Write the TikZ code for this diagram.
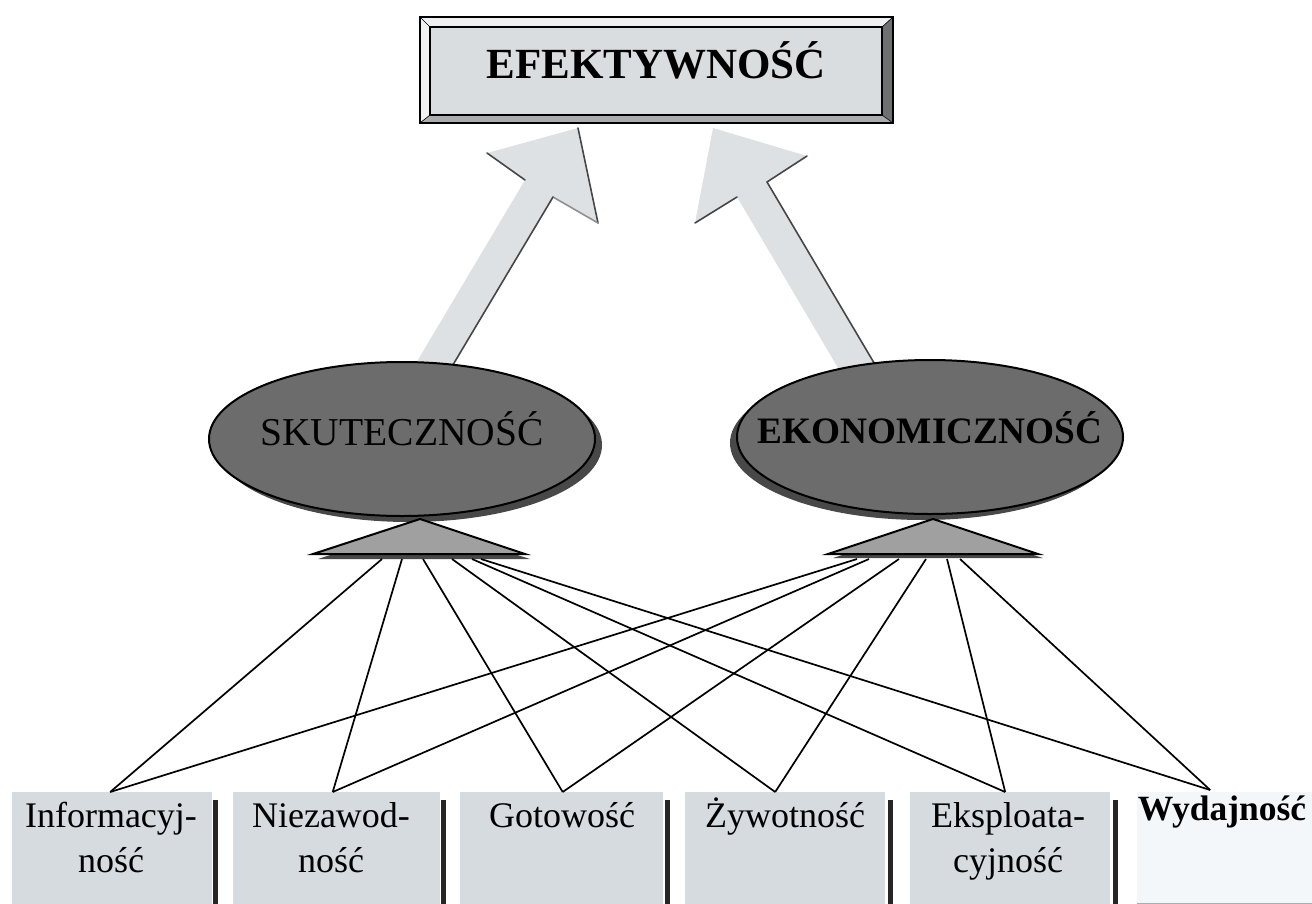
\documentclass[tikz,border=0pt]{standalone}
\usepackage{fontspec}
\setmainfont{Liberation Serif}
\usetikzlibrary{calc,shapes.geometric,shadows}

\definecolor{panel}{RGB}{218,221,223}
\definecolor{bevellight}{RGB}{238,240,241}
\definecolor{bevelmid}{RGB}{170,173,175}
\definecolor{beveldark}{RGB}{110,112,114}
\definecolor{tile}{RGB}{214,219,223}
\definecolor{tilelight}{RGB}{244,247,250}
\definecolor{arrowfill}{RGB}{222,225,228}
\definecolor{arrowedge}{RGB}{70,70,70}
\definecolor{ovalfill}{RGB}{108,108,108}
\definecolor{ovalshadow}{RGB}{72,72,72}
\definecolor{wedge}{RGB}{160,160,160}

\tikzset{
  panelbox/.style={rectangle, draw=black, line width=2pt, fill=panel,
    minimum width=452pt, minimum height=88pt, inner sep=0pt,
    font=\fontsize{43}{50}\selectfont\bfseries, text height=14pt, text depth=0pt},
  oval/.style={ellipse, draw=black, line width=2pt, fill=ovalfill,
    minimum width=386pt, minimum height=154pt, inner sep=0pt,
    text height=12pt, text depth=0pt},
  wedgeshape/.style={draw=black, line width=2pt, fill=wedge, line join=miter},
  tilebox/.style={rectangle, fill=tile, draw=none, minimum height=125pt,
    anchor=north west, inner sep=0pt, minimum width=#1},
  tilelabel/.style={anchor=north, inner sep=0pt, align=center,
    font=\fontsize{36}{45}\selectfont},
  bar/.style={fill=black!85},
  link/.style={draw=black, line width=1.7pt},
  blockarrow/.style={fill=arrowfill, draw=none},
  arrowshade/.style={draw=arrowedge, line width=1.6pt, line cap=round}
}

\begin{document}
\begin{tikzpicture}[x=1pt, y=-1pt]
\useasboundingbox (0,0) rectangle (1312,903);

% ---- block arrows towards the top panel (drawn first, ovals cover their bases)
\path[blockarrow] (394,400) -- (525,180) -- (487,153) -- (578,128)
  -- (598,223) -- (553,197) -- (432,400) -- cycle;
\draw[arrowshade] (487,153) -- (525,180);
\draw[arrowshade] (578,128) -- (598,223);
\draw[arrowshade, draw=arrowedge!60] (598,223) -- (553,197);
\draw[arrowshade] (553,197) -- (432,400);

\path[blockarrow] (857,400) -- (737,197) -- (695,223) -- (713,128)
  -- (807,156) -- (767,182) -- (896,400) -- cycle;
\draw[arrowshade] (695,223) -- (737,197);
\draw[arrowshade] (807,156) -- (767,182);
\draw[arrowshade] (767,182) -- (896,400);

% ---- top panel with bevelled frame
\fill[bevellight] (420,17) -- (893,17) -- (882,27) -- (430,27) -- cycle;
\fill[white!95!black] (420,17) -- (430,27) -- (430,115) -- (420,123) -- cycle;
\fill[beveldark] (893,17) -- (893,123) -- (882,115) -- (882,27) -- cycle;
\fill[bevelmid] (420,123) -- (893,123) -- (882,115) -- (430,115) -- cycle;
\draw[black, line width=0.6pt] (420,17) -- (430,27) (893,17) -- (882,27)
  (420,123) -- (430,115) (893,123) -- (882,115);
\draw[black, line width=2pt] (420,17) rectangle (893,123);
\node[panelbox] (eff) at (656,71) {EFEKTYWNOŚĆ};

% ---- the two ovals
\node[oval, font=\fontsize{39.5}{45}\selectfont,
  drop shadow={shadow xshift=7pt, shadow yshift=-6pt, fill=ovalshadow, opacity=1}]
  (sku) at (402,439) {\makebox[0pt]{SKUTECZNOŚĆ}};
\node[oval, font=\fontsize{37.3}{42}\selectfont\bfseries,
  drop shadow={shadow xshift=-7pt, shadow yshift=-6pt, fill=ovalshadow, opacity=1}]
  (eko) at (930,437) {\makebox[0pt]{EKONOMICZNOŚĆ}};

% ---- wedges under the ovals
\fill[ovalshadow] (318,559) -- (530,559) -- (422,525) -- cycle;
\draw[wedgeshape] (420,519) -- (313,554) -- (525,554) -- cycle;
\fill[ovalshadow] (833,558) -- (1043,558) -- (935,524) -- cycle;
\draw[wedgeshape] (933,519) -- (828,554) -- (1038,554) -- cycle;

% fan origins below each wedge
\coordinate (s1) at (382,559);
\coordinate (s2) at (402,559);
\coordinate (s3) at (423,559);
\coordinate (s4) at (452,559);
\coordinate (s5) at (472,559);
\coordinate (s6) at (481,559);
\coordinate (e1) at (857,559);
\coordinate (e2) at (869,559);
\coordinate (e3) at (899,559);
\coordinate (e4) at (926,559);
\coordinate (e5) at (947,559);
\coordinate (e6) at (960,559);

% ---- bottom tiles
\node[tilebox=200pt] (b1) at (12,792) {};
\node[tilebox=207pt] (b2) at (233,792) {};
\node[tilebox=203pt] (b3) at (460,792) {};
\node[tilebox=200pt] (b4) at (685,792) {};
\node[tilebox=200pt] (b5) at (910,792) {};
\node[tilebox=180pt, fill=tilelight] (b6) at (1137,792) {};
\draw[bevelmid, line width=1.5pt] ($(b6.south west)+(0,-14)$) -- ($(b6.south east)+(0,-14)$);

\foreach \b/\dx in {b1/1, b2/1, b3/2, b4/3, b5/3}
  \fill[bar] ($(\b.north east)+(\dx,8)$) rectangle ($(\b.south east)+(\dx+5,0)$);

% ---- tile labels
\node[tilelabel] (t1) at (111,802) {Informacyj-\\ność};
\node[tilelabel] (t2) at (331,802) {Niezawod-\\ność};
\node[tilelabel] (t3) at (562,802) {Gotowość};
\node[tilelabel] (t4) at (785,798) {Żywotność};
\node[tilelabel] (t5) at (1008,802) {Eksploata-\\cyjność};
\node[tilelabel, font=\fontsize{35.5}{42}\selectfont\bfseries] (t6) at (1222,796) {Wydajność};

% ---- connectors from the wedges to the tiles
\foreach \s in {s,e} {
  \draw[link] (\s1) -- ($(b1.north)+(-2,0)$);
  \draw[link] (\s2) -- ($(b2.north)+(-4,0)$);
  \draw[link] (\s3) -- ($(b3.north)+(1,0)$);
  \draw[link] (\s4) -- ($(b4.north)+(-10,0)$);
  \draw[link] (\s5) -- ($(b5.north)+(-5,0)$);
  \draw[link] (\s6) -- ($(b6.north)+(-17,-2)$);
}
\end{tikzpicture}
\end{document}
